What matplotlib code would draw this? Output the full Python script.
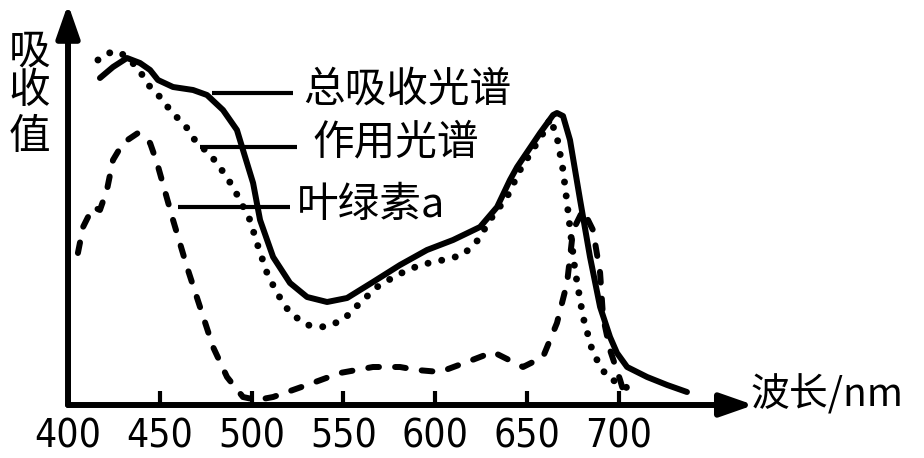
import matplotlib.pyplot as plt

plt.rcParams['font.family'] = ['Noto Sans CJK SC', 'DejaVu Sans']

# values: wavelength in nm, absorbance in relative units
total_wl = [417.4, 424.5, 432.1, 439.2, 444.7, 449.0, 457.2, 468.1, 475.7, 484.4,
            492.0, 495.3, 500.8, 504.6, 511.7, 520.9, 530.2, 541.1, 552.0, 566.1,
            580.8, 595.5, 609.7, 624.4, 633.7, 640.7, 644.6, 657.1, 664.2, 666.3,
            669.6, 673.4, 678.9, 684.3, 689.8, 695.2, 699.0, 704.5, 715.4, 726.3,
            737.1]
total_abs = [327, 338, 347, 342, 335, 325, 318, 315, 310, 295,
             275, 255, 222, 185, 148, 122, 108, 103, 107, 123,
             140, 155, 165, 178, 198, 225, 238, 272, 290, 292,
             289, 265, 205, 148, 98, 68, 52, 38, 28, 20,
             13]

action_wl = [416.3, 421.8, 428.3, 437.6, 444.7, 450.1, 455.6, 464.8, 468.1, 477.3,
             481.2, 489.9, 499.1, 502.9, 508.4, 513.8, 520.9, 530.2, 540.0, 549.8,
             559.0, 568.3, 579.2, 591.7, 604.2, 615.1, 623.3, 629.8, 639.1, 646.2,
             660.9, 662.5, 666.3, 669.6, 671.8, 676.1, 680.5, 685.9, 693.6, 708.8]
action_abs = [345, 352, 353, 338, 318, 308, 295, 277, 267, 250,
              242, 218, 185, 162, 132, 112, 92, 80, 78, 85,
              102, 118, 130, 140, 145, 150, 165, 185, 208, 235,
              278, 287, 268, 235, 202, 135, 88, 52, 28, 13]

chla_wl = [405.4, 408.2, 413.6, 417.4, 421.2, 424.5, 430.0, 438.1, 444.7, 448.5,
           457.2, 464.8, 471.9, 479.0, 486.6, 495.3, 502.9, 511.7, 530.2, 548.1,
           566.1, 580.8, 590.1, 602.6, 617.3, 631.5, 642.4, 647.8, 658.7, 666.3,
           671.8, 675.1, 680.5, 685.9, 689.8, 691.4, 695.2, 700.7, 702.3]
chla_abs = [152, 178, 198, 195, 215, 245, 262, 272, 262, 242,
            185, 138, 98, 58, 28, 8, 5, 8, 20, 32,
            38, 38, 35, 33, 43, 53, 43, 38, 48, 82,
            122, 175, 195, 175, 132, 88, 55, 25, 15]

tick_wl = [400, 450, 500, 550, 600, 650, 700]
tick_labels = ['400', '450', '500', '550', '600', '650', '700']

fig = plt.figure(figsize=(9.24, 4.58), dpi=100)
ax = fig.add_axes([0, 0, 1, 1])
ax.set_xlim(362.96, 866.2)
ax.set_ylim(-53, 405)
ax.axis('off')

# axes with arrow heads
arrow = dict(arrowstyle='-|>,head_length=2.0,head_width=0.7', lw=4.3,
             color='k', shrinkA=0, shrinkB=0, mutation_scale=10)
ax.annotate('', xy=(400, 401), xytext=(400, 0), arrowprops=arrow)
ax.annotate('', xy=(773.5, 0), xytext=(400, 0), arrowprops=arrow)
ax.vlines(tick_wl[1:], 0, 14, colors='k', lw=3)
for w, t in zip(tick_wl, tick_labels):
    ax.text(w, -12, t, ha='center', va='top', fontsize=28,
            family=['Liberation Sans Narrow', 'DejaVu Sans'], fontstretch='condensed')

# curves
ax.plot(total_wl, total_abs, color='k', lw=4.3, solid_capstyle='round',
        solid_joinstyle='round')
ax.plot(action_wl, action_abs, color='k', lw=5, linestyle=(0, (0.01, 2.0)),
        dash_capstyle='round')
ax.plot(chla_wl, chla_abs, color='k', lw=4.3, linestyle=(0, (1.8, 2.7)),
        dash_capstyle='round')

# leader lines and labels
ax.hlines([312, 258, 198], [478.4, 471.9, 459.9], [522.5, 524.7, 520.9],
          colors='k', lw=3)
ax.text(528.0, 315, '总吸收光谱', fontsize=30, ha='left', va='center')
ax.text(533.4, 262, '作用光谱', fontsize=30, ha='left', va='center')
ax.text(524.7, 200, '叶绿素a', fontsize=30, ha='left', va='center')

for ch, h in zip('吸收值', [353, 313, 268]):
    ax.text(378.8, h, ch, fontsize=30, ha='center', va='center')
ax.text(771.5, 10, '波长/nm', fontsize=28, ha='left', va='center')

fig.savefig('out.png', dpi=100)
